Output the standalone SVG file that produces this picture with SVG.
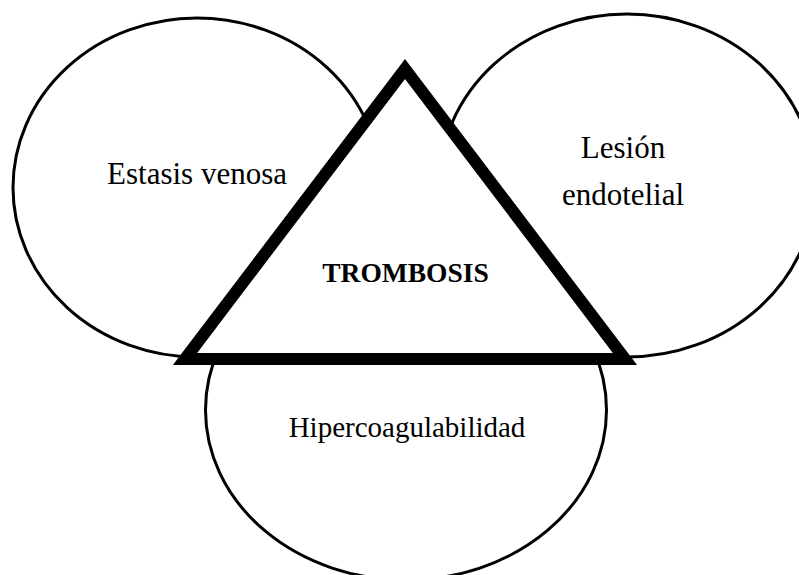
<svg xmlns="http://www.w3.org/2000/svg" width="799" height="575" viewBox="0 0 799 575">
<style>
.el{fill:#fff;stroke:#000;stroke-width:3}
.tri{fill:#fff;stroke:#000;stroke-width:12;stroke-linejoin:miter;stroke-miterlimit:10}
.t{font-family:"Liberation Serif","Times New Roman",serif;fill:#000;text-anchor:middle}
</style>
<rect width="799" height="575" fill="#fff"/>
<g id="estasis">
<ellipse class="el" cx="197" cy="187.5" rx="184" ry="169.5"/>
<text class="t" x="197" y="184" font-size="31">Estasis venosa</text>
</g>
<g id="lesion">
<ellipse class="el" cx="627" cy="185.5" rx="188" ry="171.5"/>
<text class="t" x="623" y="158" font-size="31">Lesión</text>
<text class="t" x="623" y="205" font-size="31">endotelial</text>
</g>
<g id="hipercoagulabilidad">
<ellipse class="el" cx="406" cy="410" rx="200.5" ry="170"/>
<text class="t" x="407" y="437" font-size="29">Hipercoagulabilidad</text>
</g>
<g id="trombosis">
<polygon class="tri" points="185,359 405,69 625,359"/>
<text class="t" x="405.5" y="282" font-size="27.5" font-weight="bold">TROMBOSIS</text>
</g>
<g id="connectors"></g>
</svg>
